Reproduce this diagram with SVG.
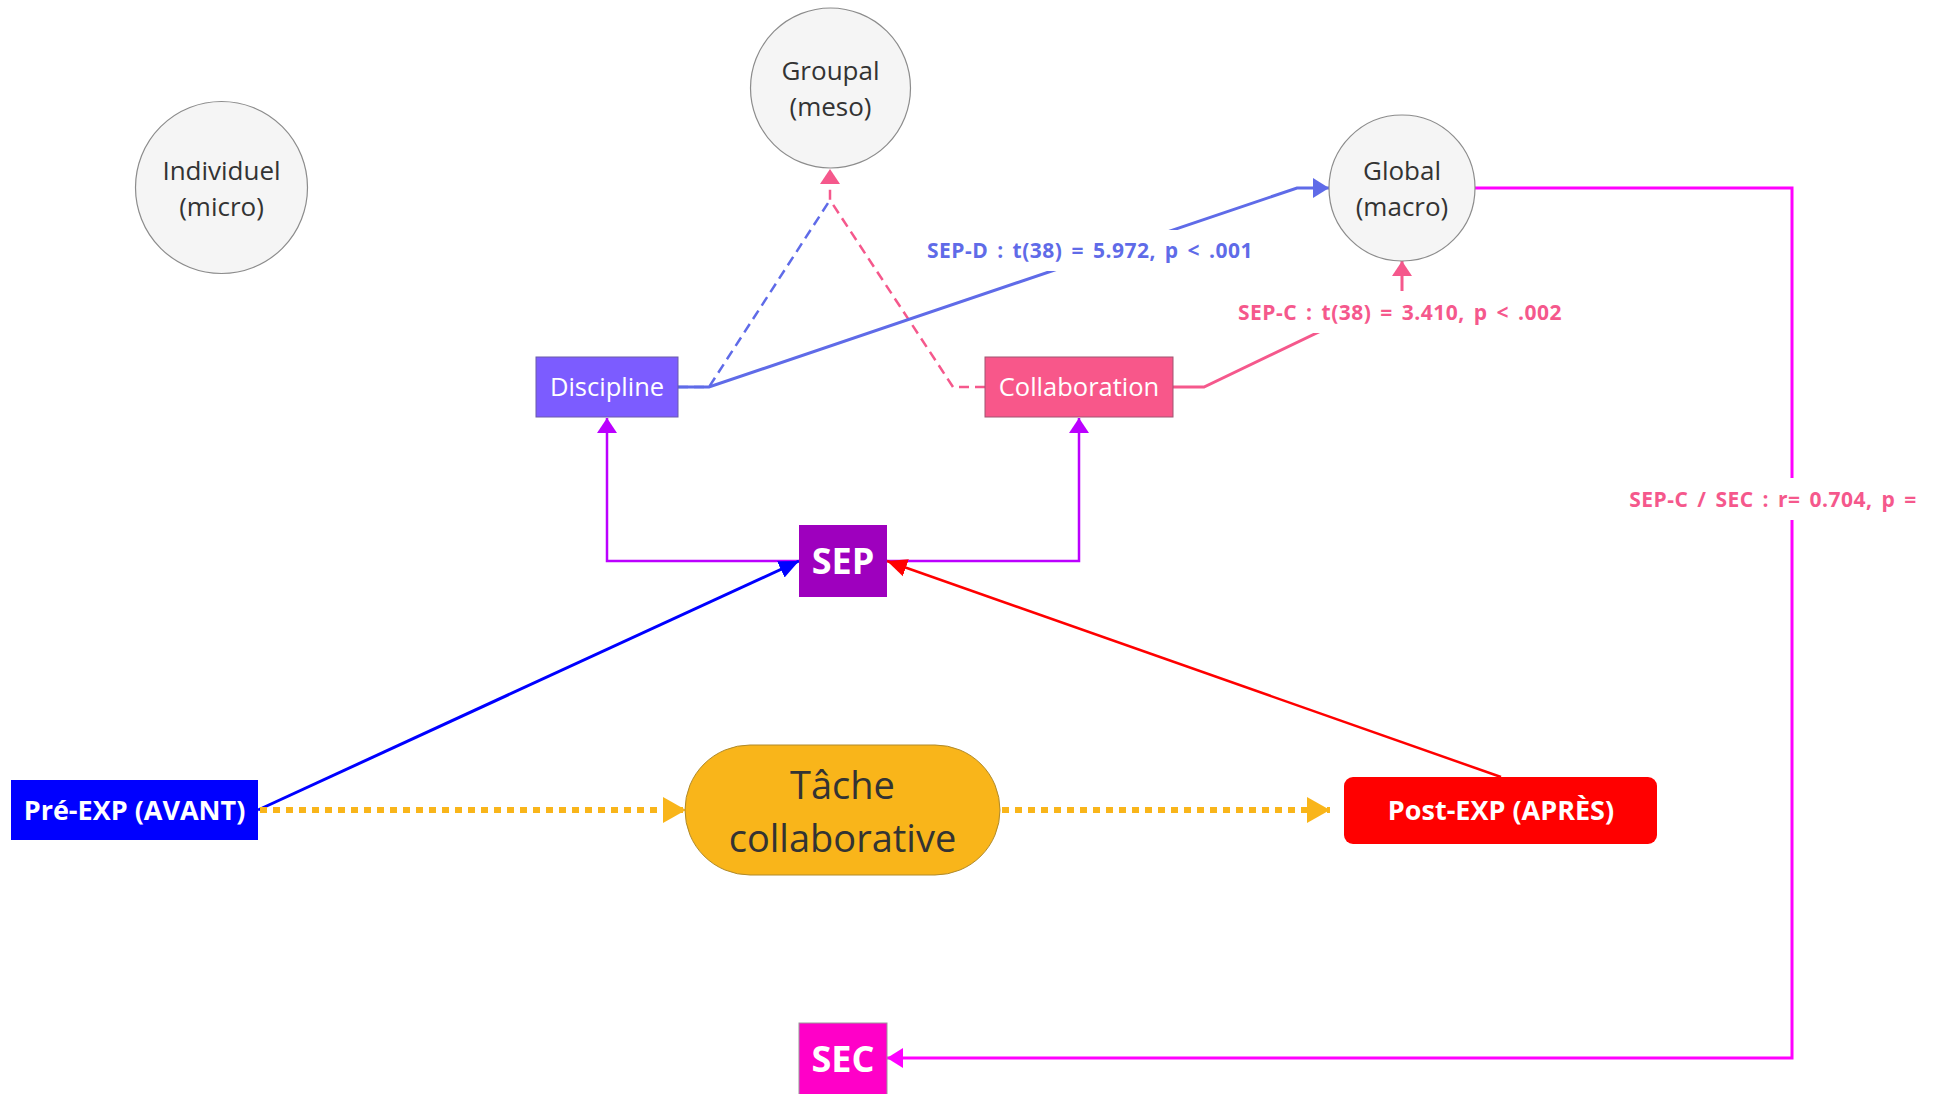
<svg xmlns="http://www.w3.org/2000/svg" width="1935" height="1094" viewBox="0 0 1935 1094">
<style>
.circ{fill:#F5F5F5;stroke:#8C8C8C;stroke-width:1.2}
.ct{font-family:"Open Sans","Noto Sans",sans-serif;font-size:26px;fill:#333;text-anchor:middle}
.tt{font-family:"Open Sans","Noto Sans",sans-serif;font-size:38px;fill:#333;text-anchor:middle}
.bt{font-family:"Open Sans","Noto Sans",sans-serif;font-size:25.5px;fill:#fff;text-anchor:middle}
.bb{font-family:"Open Sans","Noto Sans",sans-serif;font-weight:bold;fill:#fff;text-anchor:middle}
.lbl{font-family:"Open Sans","Noto Sans",sans-serif;font-weight:bold;font-size:21px;letter-spacing:0.5px;word-spacing:3px;text-anchor:middle}
.c{fill:none}
</style>
<defs>
<marker id="mPurple" markerUnits="userSpaceOnUse" markerWidth="20" markerHeight="20" refX="15" refY="10" orient="auto"><path d="M0,0 L15,10 L0,20 z" fill="#BB00FF"/></marker>
<marker id="mBlueL" markerUnits="userSpaceOnUse" markerWidth="20" markerHeight="20" refX="16" refY="10" orient="auto"><path d="M0,0 L16,10 L0,20 z" fill="#5F6BE8"/></marker>
<marker id="mPink" markerUnits="userSpaceOnUse" markerWidth="20" markerHeight="20" refX="15" refY="10" orient="auto"><path d="M0,0 L15,10 L0,20 z" fill="#F5588C"/></marker>
<marker id="mBlue" markerUnits="userSpaceOnUse" markerWidth="22" markerHeight="20" refX="20" refY="10" orient="auto"><path d="M0,1 L20,10 L0,19 z" fill="#0000FF"/></marker>
<marker id="mRed" markerUnits="userSpaceOnUse" markerWidth="22" markerHeight="20" refX="20" refY="10" orient="auto"><path d="M0,1 L20,10 L0,19 z" fill="#FF0000"/></marker>
<marker id="mYellow" markerUnits="userSpaceOnUse" markerWidth="24" markerHeight="28" refX="23" refY="13" orient="auto"><path d="M0,0 L23,13 L0,26 z" fill="#F9B51A"/></marker>
<marker id="mMagenta" markerUnits="userSpaceOnUse" markerWidth="18" markerHeight="20" refX="16" refY="10" orient="auto"><path d="M0,0 L16,10 L0,20 z" fill="#FF00FF"/></marker>
</defs>

<g id="connectors">
  <path class="c" d="M678,387 H709 L830,200" stroke="#5F6BE8" stroke-width="2.5" stroke-dasharray="10 6"/>
  <path class="c" d="M985,387 H953 L830,200 V169" stroke="#F5588C" stroke-width="2.5" stroke-dasharray="10 6" marker-end="url(#mPink)"/>
  <path class="c" d="M678,387 H709 L1297,188 H1329" stroke="#5F6BE8" stroke-width="3" marker-end="url(#mBlueL)"/>
  <path class="c" d="M1173,387 H1204 L1402,292 V261" stroke="#F5588C" stroke-width="3" marker-end="url(#mPink)"/>
  <path class="c" d="M799,561 H607 V418" stroke="#BB00FF" stroke-width="2.5" marker-end="url(#mPurple)"/>
  <path class="c" d="M887,561 H1079 V418" stroke="#BB00FF" stroke-width="2.5" marker-end="url(#mPurple)"/>
  <path class="c" d="M258,810 L799,561" stroke="#0000FF" stroke-width="3" marker-end="url(#mBlue)"/>
  <path class="c" d="M1501,777 L887,561" stroke="#FF0000" stroke-width="2.5" marker-end="url(#mRed)"/>
  <path class="c" d="M260,810 H686" stroke="#F9B51A" stroke-width="6" stroke-dasharray="7 6" marker-end="url(#mYellow)"/>
  <path class="c" d="M1002,810 H1330" stroke="#F9B51A" stroke-width="6" stroke-dasharray="7 6" marker-end="url(#mYellow)"/>
  <path class="c" d="M1475,188 H1792 V1058 H887" stroke="#FF00FF" stroke-width="3" marker-end="url(#mMagenta)"/>
  <rect x="926" y="230" width="328" height="41" fill="#fff"/>
  <text class="lbl" x="1090" y="258" fill="#5F6BE8">SEP-D : t(38) = 5.972, p &lt; .001</text>
  <rect x="1236" y="291" width="328" height="42" fill="#fff"/>
  <text class="lbl" x="1400" y="320" fill="#F5588C">SEP-C : t(38) = 3.410, p &lt; .002</text>
  <rect x="1628" y="478" width="292" height="42" fill="#fff"/>
  <text class="lbl" x="1773" y="507" fill="#F5588C">SEP-C / SEC : r= 0.704, p =</text>
</g>

<g id="individuel">
  <circle class="circ" cx="221.5" cy="187.5" r="86"/>
  <text class="ct" x="221.5" y="180">Individuel</text>
  <text class="ct" x="221.5" y="216">(micro)</text>
</g>
<g id="groupal">
  <circle class="circ" cx="830.5" cy="88" r="80"/>
  <text class="ct" x="830.5" y="80">Groupal</text>
  <text class="ct" x="830.5" y="116">(meso)</text>
</g>
<g id="global">
  <circle class="circ" cx="1402" cy="188" r="73"/>
  <text class="ct" x="1402" y="180">Global</text>
  <text class="ct" x="1402" y="216">(macro)</text>
</g>
<g id="discipline">
  <rect x="536" y="357" width="142" height="60" fill="#7C5CFF" stroke="#6A5AAA" stroke-width="1"/>
  <text class="bt" x="607" y="396">Discipline</text>
</g>
<g id="collaboration">
  <rect x="985" y="357" width="188" height="60" fill="#F8578A" stroke="#A05570" stroke-width="1"/>
  <text class="bt" x="1079" y="396">Collaboration</text>
</g>
<g id="sep">
  <rect x="799" y="525" width="88" height="72" fill="#9E00BE"/>
  <text class="bb" x="843" y="574" font-size="36">SEP</text>
</g>
<g id="pre-exp">
  <rect x="11" y="780" width="247" height="60" fill="#0000FF"/>
  <text class="bb" x="134.5" y="820" font-size="27">Pré-EXP (AVANT)</text>
</g>
<g id="tache">
  <rect x="685" y="745" width="315" height="130" rx="65" ry="65" fill="#F9B51A" stroke="#B08A2A" stroke-width="1"/>
  <text class="tt" x="842.5" y="799">Tâche</text>
  <text class="tt" x="842.5" y="852">collaborative</text>
</g>
<g id="post-exp">
  <rect x="1344" y="777" width="313" height="67" rx="9" ry="9" fill="#FF0000"/>
  <text class="bb" x="1501" y="820" font-size="27">Post-EXP (APRÈS)</text>
</g>
<g id="sec">
  <rect x="799" y="1023" width="88" height="74" fill="#FF00C8" stroke="#999" stroke-width="1"/>
  <text class="bb" x="843" y="1072" font-size="36">SEC</text>
</g>
</svg>
